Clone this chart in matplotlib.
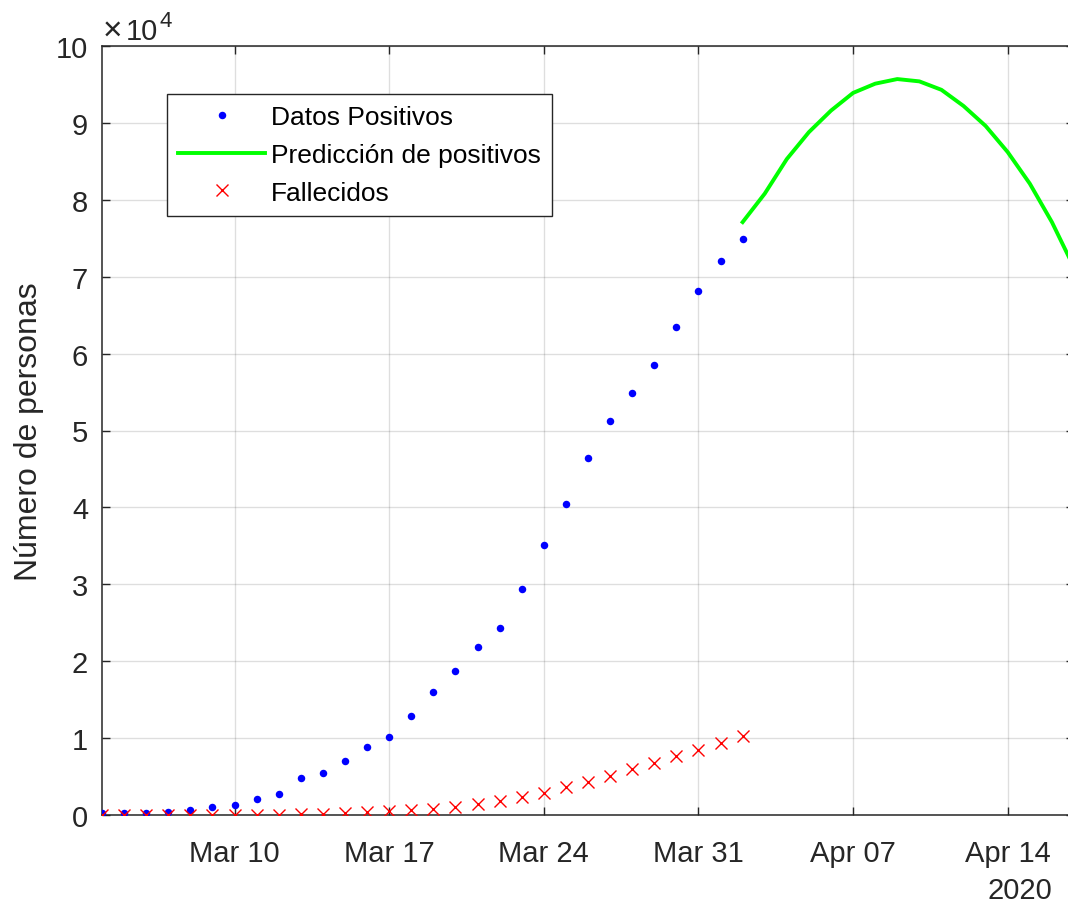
import numpy as np
import matplotlib
matplotlib.use("Agg")
import matplotlib.pyplot as plt
import matplotlib.dates as mdates
from matplotlib.ticker import FuncFormatter

plt.rcParams['font.family'] = ['Liberation Sans', 'DejaVu Sans']

# ---- data ----
obs_dates = np.arange(np.datetime64('2020-03-04'), np.datetime64('2020-04-03'))
positivos = [220, 260, 300, 350, 610, 1000, 1340, 2050, 2690, 4770,
             5500, 7020, 8900, 10100, 12910, 15990, 18720, 21850, 24280, 29350,
             35150, 40400, 46400, 51200, 54900, 58500, 63500, 68200, 72000, 74900]
fallecidos = [10, 10, 10, 15, 20, 30, 35, 55, 55, 130,
              195, 290, 340, 530, 620, 830, 1040, 1375, 1770, 2310,
              2800, 3600, 4300, 5100, 5950, 6750, 7700, 8450, 9370, 10320]

pred_dates = np.arange(np.datetime64('2020-04-02'), np.datetime64('2020-04-18'))
prediccion = [77100, 80800, 85300, 88800, 91600, 93900, 95100, 95700,
              95400, 94300, 92200, 89600, 86200, 82100, 77100, 71200]

xtick_dates = np.array(['2020-03-10', '2020-03-17', '2020-03-24', '2020-03-31',
                        '2020-04-07', '2020-04-14'], dtype='datetime64[D]')
xlim_dates = np.array(['2020-03-04', '2020-04-17'], dtype='datetime64[D]')
yticks = np.arange(0, 100001, 10000)

labels = ['Datos Positivos', 'Predicción de positivos', 'Fallecidos']
ylabel = 'Número de personas'

# ---- figure ----
W, H = 1068, 903
fig = plt.figure(figsize=(W / 100, H / 100), dpi=100)
ax = fig.add_axes([102 / W, (H - 816) / H, (1074 - 102) / W, (816 - 47) / H])

txt = '#262626'
ax.plot(obs_dates, positivos, linestyle='none', marker='o', ms=5.4,
        color='#0000ff', mec='none', label=labels[0], zorder=3)
ax.plot(pred_dates, prediccion, color='#00ff00', lw=2.8, label=labels[1], zorder=3)
ax.plot(obs_dates, fallecidos, linestyle='none', marker='x', ms=9, mew=1.0,
        color='#ff0000', label=labels[2], zorder=4)

ax.set_xlim(xlim_dates[0], xlim_dates[1])
ax.set_ylim(0, 100000)
ax.set_xticks(xtick_dates)
ax.xaxis.set_major_formatter(mdates.DateFormatter('%b %d'))
ax.set_yticks(yticks)
ax.yaxis.set_major_formatter(FuncFormatter(lambda v, p: f'{v/1e4:g}'))

ax.grid(True, color='#262626', alpha=0.15, lw=1.0)
ax.set_axisbelow(True)
for s in ax.spines.values():
    s.set_color('#262626')
    s.set_linewidth(1.1)

ax.tick_params(axis='both', direction='in', length=5.8, width=1.0,
               colors=txt, labelsize=21, top=True, right=True)
ax.tick_params(axis='x', pad=17)
ax.tick_params(axis='y', pad=10)

ax.set_ylabel(ylabel, fontsize=23, color=txt, labelpad=8.5)

# x10^4 multiplier
fig.text(103 / W, 1 - 40 / H, '×', fontsize=24, color=txt, ha='left',
         va='baseline', fontweight='light')
fig.text(126 / W, 1 - 40 / H, '10', fontsize=21, color=txt, ha='left', va='baseline')
fig.text(159 / W, 1 - 27 / H, '4', fontsize=16, color=txt, ha='left', va='baseline')

fig.text(1052 / W, 1 - 899 / H, '2020', fontsize=21, color=txt,
         ha='right', va='baseline')

leg = ax.legend(loc='upper left', bbox_to_anchor=((167 - 102) / 972, (816 - 95) / 769),
                borderaxespad=0, fontsize=19, frameon=True, fancybox=False,
                edgecolor='#262626', framealpha=1, handlelength=3.3,
                handletextpad=0.22, labelspacing=0.52, borderpad=0.42)
leg.get_frame().set_linewidth(1.0)
for t in leg.get_texts():
    t.set_color('#000000')

fig.savefig('out.png', dpi=100)
